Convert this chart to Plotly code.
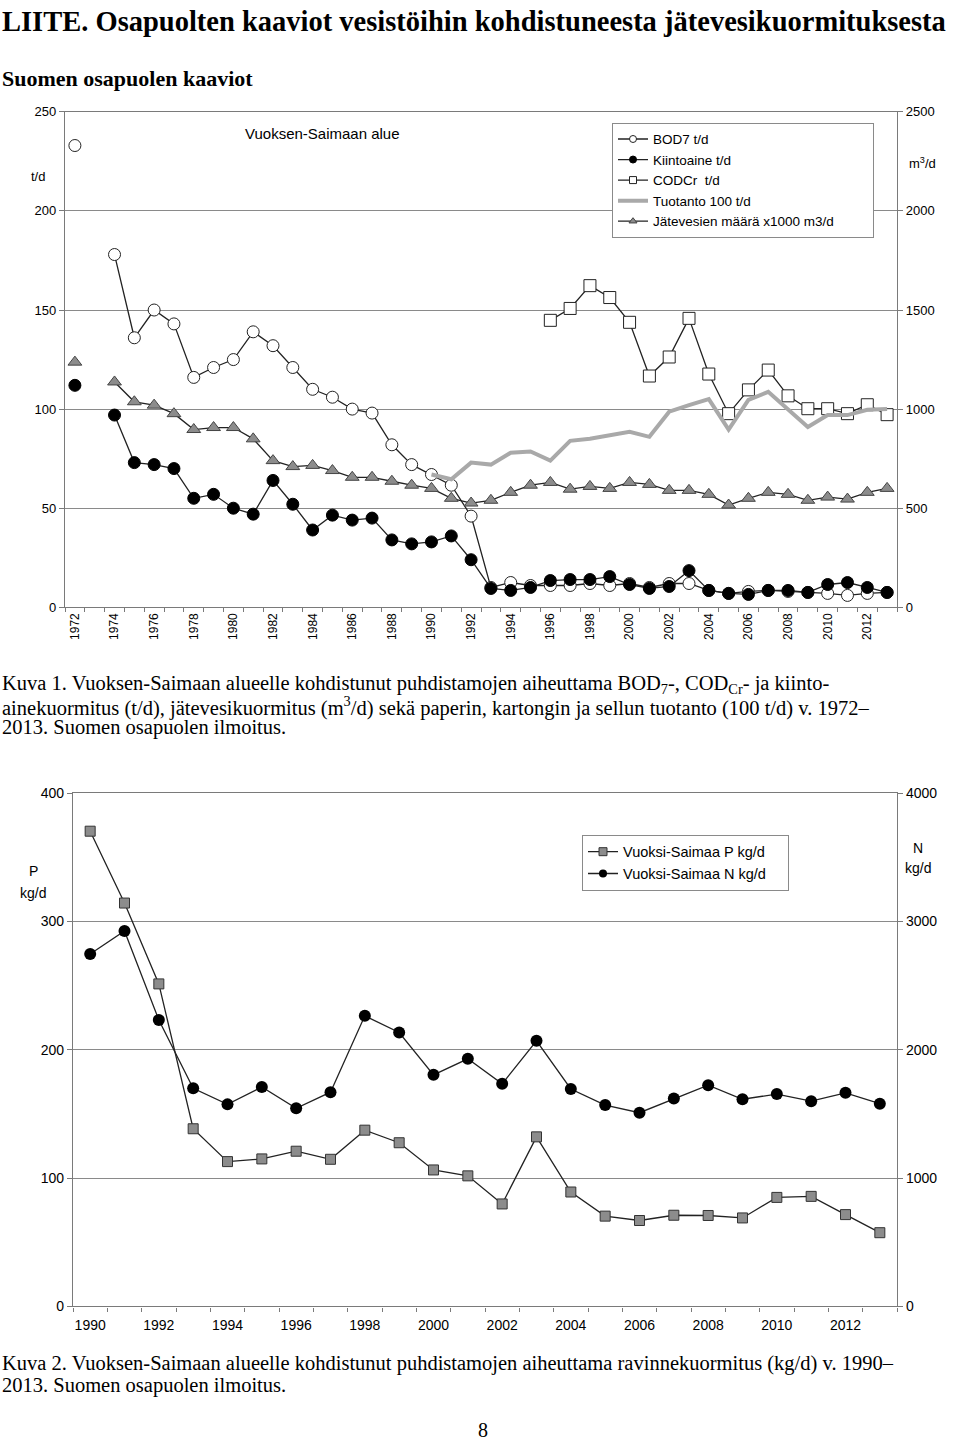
import plotly.graph_objects as go

W, H = 960, 1446

# ---------------- Top chart data (t/d, left axis scale) ----------------
years1 = list(range(1972, 2014))
bod7 = [233, None, 178, 136, 150, 143, 116, 121, 125, 139, 132, 121, 110, 106, 100, 98,
        82, 72, 67, 61.6, 46, 10, 12.5, 11, 11, 11, 12, 11, 12, 10, 12, 12, 8.5, 7, 8,
        8.5, 8, 7.5, 7, 6, 7, 7.5]
kiinto = [112, None, 97, 73, 72, 70, 55, 57, 50, 47, 64, 52, 39, 46.5, 44, 45,
          34, 32, 33, 36, 24, 9.5, 8.5, 10, 13.5, 14, 14, 15.5, 11.5, 9.5, 10.5, 18.5, 8.5, 7,
          6.5, 8.5, 8.5, 7.5, 11.5, 12.5, 10, 7.5]
codcr = [None] * 24 + [144.8, 150.8, 162.3, 156.3, 143.8, 116.7, 126.3, 145.8, 117.7, 97.7,
                       109.7, 119.7, 106.7, 100.2, 100.2, 97.7, 102.2, 97.2]
tuotanto = [None] * 18 + [67, 64.6, 73, 72, 78, 78.6, 74, 84, 85, 87, 88.6, 86, 98.7, 102,
                          105, 89.7, 104.7, 108.7, 99.7, 91, 97, 97, 99.7, 100]
jatevesi = [123.7, None, 113.7, 103.7, 102, 97.7, 89.7, 90.7, 90.7, 85, 74, 71, 71.6, 69,
            65.6, 65.6, 63.6, 61.6, 60, 55, 52.6, 54, 58, 61.6, 63, 59.6, 61, 60, 63, 62, 59,
            59, 57, 51.6, 55, 58, 57, 54, 55.6, 54.6, 58, 60]
top_xticks = list(range(1972, 2013, 2))
top_names = ["BOD7 t/d", "Kiintoaine t/d", "CODCr  t/d", "Tuotanto 100 t/d",
             "Jätevesien määrä x1000 m3/d"]

# ---------------- Bottom chart data ----------------
years2 = list(range(1990, 2014))
p_kgd = [370.4, 314.4, 251.4, 138.5, 112.9, 115, 121, 114.7, 137.4, 127.6, 106.4, 101.8,
         79.9, 132.2, 89.2, 70.4, 67, 71.1, 70.9, 69, 85, 85.8, 71.6, 57.5]
n_kgd = [2747, 2926, 2233, 1700, 1575, 1710, 1545, 1670, 2265, 2135, 1805, 1930, 1735, 2070,
         1695, 1570, 1510, 1620, 1725, 1615, 1655, 1600, 1665, 1580]
bot_xticks = list(range(1990, 2013, 2))
bot_names = ["Vuoksi-Saimaa P kg/d", "Vuoksi-Saimaa N kg/d"]


def px(x):
    return x / W


def py(y):
    return 1 - y / H


SANS = "Liberation Sans"
SERIF = "Liberation Serif"
LINE = "#222222"
GRID = "#8a8a8a"
AX = "#7a7a7a"
NB = "\u00a0"

top_styles = [
    dict(mode="lines+markers", line=dict(color=LINE, width=1.3),
         marker=dict(symbol="circle", size=12, color="white", line=dict(color=LINE, width=1))),
    dict(mode="lines+markers", line=dict(color=LINE, width=1.3),
         marker=dict(symbol="circle", size=12, color="black", line=dict(color="black", width=1))),
    dict(mode="lines+markers", line=dict(color=LINE, width=1.3),
         marker=dict(symbol="square", size=12, color="white", line=dict(color=LINE, width=1))),
    dict(mode="lines", line=dict(color="#a9a9a9", width=4)),
    dict(mode="lines+markers", line=dict(color=LINE, width=1.3),
         marker=dict(symbol="triangle-up", size=12, color="#8c8c8c",
                     line=dict(color="#444444", width=1))),
]
top_series = [bod7, kiinto, codcr, tuotanto, jatevesi]

fig = go.Figure()

for vals, st in zip(top_series, top_styles):
    fig.add_trace(go.Scatter(x=years1, y=vals, showlegend=False, xaxis="x", yaxis="y", **st))

# legend entries for top chart (small symbols, like the original)
for i, (name, st) in enumerate(zip(top_names, top_styles)):
    st2 = dict(st)
    if "marker" in st2:
        m = dict(st2["marker"])
        m["size"] = 7
        st2["marker"] = m
    label = name + (NB * 9 if i == 4 else "")
    fig.add_trace(go.Scatter(x=[None], y=[None], name=label, xaxis="x", yaxis="y",
                             legend="legend", **st2))

# dummy trace to activate right axis of top chart
fig.add_trace(go.Scatter(x=[1972], y=[None], showlegend=False, xaxis="x", yaxis="y2",
                         hoverinfo="skip"))

bot_styles = [
    dict(mode="lines+markers", line=dict(color=LINE, width=1.3),
         marker=dict(symbol="square", size=10, color="#8c8c8c",
                     line=dict(color="#333333", width=1))),
    dict(mode="lines+markers", line=dict(color=LINE, width=1.3),
         marker=dict(symbol="circle", size=12, color="black")),
]
fig.add_trace(go.Scatter(x=years2, y=p_kgd, showlegend=False, xaxis="x3", yaxis="y3",
                         **bot_styles[0]))
fig.add_trace(go.Scatter(x=years2, y=n_kgd, showlegend=False, xaxis="x3", yaxis="y4",
                         **bot_styles[1]))
for i, (name, st) in enumerate(zip(bot_names, bot_styles)):
    st2 = dict(st)
    m = dict(st2["marker"])
    m["size"] = 8
    st2["marker"] = m
    fig.add_trace(go.Scatter(x=[None], y=[None], name=name + NB * 4, xaxis="x3", yaxis="y3",
                             legend="legend2", **st2))

# axes
top_xd = [px(65), px(897)]
top_yd = [py(606), py(105)]
bot_xd = [px(73), px(897)]
bot_yd = [py(1313), py(794)]

tickfont = dict(family=SANS, size=13, color="black")

fig.update_layout(
    width=W, height=H, margin=dict(l=0, r=0, t=0, b=0),
    paper_bgcolor="white", plot_bgcolor="white",
    xaxis=dict(domain=top_xd, range=[1971.5, 2013.5], anchor="y",
               tickvals=top_xticks, ticktext=[str(v) for v in top_xticks],
               tickangle=-90, tickfont=dict(family=SANS, size=12, color="black"),
               ticks="", showgrid=False, zeroline=False,
               showline=True, linecolor=AX, linewidth=1.3, mirror=True,
               minor=dict(tick0=1971.5, dtick=1, ticks="outside", ticklen=4,
                          tickcolor=AX, showgrid=False)),
    xaxis2=dict(domain=top_xd, range=[1971.5, 2013.5], anchor="y", overlaying="x",
                showticklabels=False, ticks="", showgrid=False, zeroline=False,
                minor=dict(tick0=1971.5, dtick=1, ticks="inside", ticklen=4,
                           tickcolor=AX, showgrid=False)),
    yaxis=dict(domain=top_yd, range=[0, 250], dtick=50, anchor="x",
               tickfont=tickfont, ticks="outside", ticklen=5, tickcolor=AX,
               showgrid=True, gridcolor=GRID, gridwidth=1, zeroline=False,
               showline=True, linecolor=AX, linewidth=1.3),
    yaxis2=dict(range=[0, 2500], dtick=500, overlaying="y", side="right", anchor="x",
                tickfont=tickfont, ticks="outside", ticklen=5, tickcolor=AX,
                showgrid=False, zeroline=False, showline=True, linecolor=AX, linewidth=1.3),
    xaxis3=dict(domain=bot_xd, range=[1989.5, 2013.5], anchor="y3",
                tickvals=bot_xticks, ticktext=[str(v) for v in bot_xticks],
                tickfont=dict(family=SANS, size=14, color="black"),
                ticks="", showgrid=False, zeroline=False, ticklabelstandoff=6,
                showline=True, linecolor=AX, linewidth=1.3, mirror=True,
                minor=dict(tick0=1989.5, dtick=1, ticks="outside", ticklen=4,
                           tickcolor=AX, showgrid=False)),
    xaxis4=dict(domain=bot_xd, range=[1989.5, 2013.5], anchor="y3", overlaying="x3",
                showticklabels=False, ticks="", showgrid=False, zeroline=False,
                minor=dict(tick0=1989.5, dtick=1, ticks="inside", ticklen=4,
                           tickcolor=AX, showgrid=False)),
    yaxis3=dict(domain=bot_yd, range=[0, 400], dtick=100, anchor="x3",
                tickfont=dict(family=SANS, size=14, color="black"),
                ticks="outside", ticklen=5, tickcolor=AX,
                showgrid=True, gridcolor=GRID, gridwidth=1, zeroline=False,
                showline=True, linecolor=AX, linewidth=1.3),
    yaxis4=dict(range=[0, 4000], dtick=1000, overlaying="y3", side="right", anchor="x3",
                tickfont=dict(family=SANS, size=14, color="black"),
                ticks="outside", ticklen=5, tickcolor=AX,
                showgrid=False, zeroline=False, showline=True, linecolor=AX, linewidth=1.3),
    legend=dict(x=px(612), y=py(116), xanchor="left", yanchor="top",
                bgcolor="white", bordercolor="#8a8a8a", borderwidth=1,
                font=dict(family=SANS, size=13.5, color="black"),
                tracegroupgap=0, itemwidth=30, itemsizing="trace"),
    legend2=dict(x=px(582), y=py(836), xanchor="left", yanchor="top",
                 bgcolor="white", bordercolor="#8a8a8a", borderwidth=1,
                 font=dict(family=SANS, size=14.5, color="black"),
                 tracegroupgap=0, itemwidth=30, itemsizing="trace"),
    showlegend=True,
)

ann = []


def text(x, y, s, size, family=SANS, xanchor="center", bold=False):
    if bold:
        s = "<b>" + s + "</b>"
    ann.append(dict(x=px(x), y=py(y), xref="paper", yref="paper", text=s, showarrow=False,
                    xanchor=xanchor, yanchor="middle",
                    font=dict(family=family, size=size, color="black")))


text(0, 14, "LIITE. Osapuolten kaaviot vesistöihin kohdistuneesta jätevesikuormituksesta",
     28.5, SERIF, "left", True)
text(0, 71, "Suomen osapuolen kaaviot", 22, SERIF, "left", True)
text(38, 170, "t/d", 13)
text(922, 157, "m<sup>3</sup>/d", 13)
text(322, 127, "Vuoksen-Saimaan alue", 15)
text(0, 684, "Kuva 1. Vuoksen-Saimaan alueelle kohdistunut puhdistamojen aiheuttama "
     "BOD<sub>7</sub>-, COD<sub>Cr</sub>- ja kiinto-", 20.5, SERIF, "left")
text(0, 706, "ainekuormitus (t/d), jätevesikuormitus (m<sup>3</sup>/d) sekä paperin, "
     "kartongin ja sellun tuotanto (100 t/d) v. 1972–", 20.5, SERIF, "left")
text(0, 728, "2013. Suomen osapuolen ilmoitus.", 20.5, SERIF, "left")
text(33, 873, "P", 14)
text(33, 895, "kg/d", 14)
text(918, 849, "N", 14)
text(918, 870, "kg/d", 14)
text(0, 1371, "Kuva 2. Vuoksen-Saimaan alueelle kohdistunut puhdistamojen aiheuttama "
     "ravinnekuormitus (kg/d) v. 1990–", 20.5, SERIF, "left")
text(0, 1393, "2013. Suomen osapuolen ilmoitus.", 20.5, SERIF, "left")
text(483, 1438, "8", 20, SERIF)

fig.update_layout(annotations=ann)

fig.write_html("out.html", config={"displayModeBar": False},
               post_script="document.body.style.margin='0px';"
                           "document.body.style.overflow='hidden';")
